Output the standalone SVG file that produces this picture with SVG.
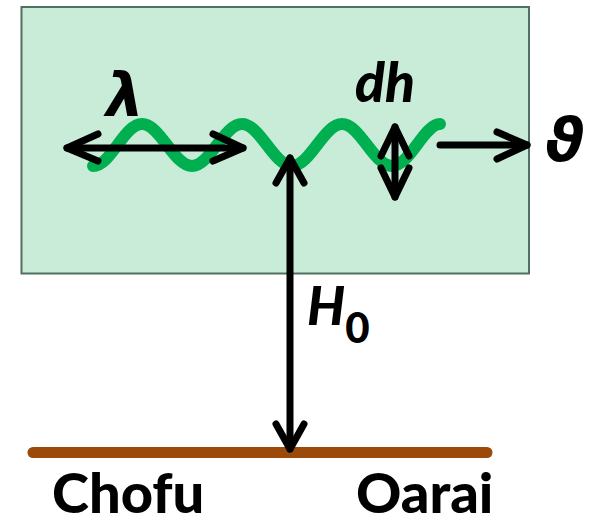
<svg xmlns="http://www.w3.org/2000/svg" width="596" height="525" viewBox="0 0 596 525">
<style>
.lbl{font-family:Lato,"Noto Sans","DejaVu Sans",sans-serif;font-weight:900;fill:#000}
.it{font-style:italic}
.greek{font-family:"DejaVu Sans","Noto Sans",sans-serif;font-weight:bold;font-style:italic;fill:#000}
.arr{fill:none;stroke:#000;stroke-width:7;stroke-linecap:round;stroke-linejoin:round}
</style>
<rect width="596" height="525" fill="#fff"/>
<g id="layer">
<rect x="21.5" y="7" width="507.5" height="266.5" fill="#c9ecd9" stroke="#52705f" stroke-width="2"/>
</g>
<g id="wave">
<path d="M93,166 C111,166 124,124 142,124 S174,166 192,166 S224,124 242,124 S274,166 292,166 S324,124 342,124 S374,166 392,166 S424,124 440,124" fill="none" stroke="#00b050" stroke-width="12" stroke-linecap="round"/>
</g>
<g id="ground">
<line x1="33" y1="452.5" x2="487" y2="452.5" stroke="#9c4a0a" stroke-width="11" stroke-linecap="round"/>
</g>
<g id="connectors">
<g id="lambda-arrow">
<line class="arr" x1="67" y1="148" x2="243" y2="148"/>
<polyline class="arr" points="98,134 67,148 98,161"/>
<polyline class="arr" points="213,134 243,148 213,161"/>
</g>
<g id="dh-arrow">
<line class="arr" x1="395" y1="127" x2="395" y2="197"/>
<polyline class="arr" points="381,156 395,127 409,156"/>
<polyline class="arr" points="381,168 395,197 409,168"/>
</g>
<g id="v-arrow">
<line class="arr" x1="440" y1="145" x2="527" y2="145"/>
<polyline class="arr" points="497,132 527,145 497,159"/>
</g>
<g id="h0-arrow">
<line class="arr" x1="290" y1="158" x2="290" y2="449"/>
<polyline class="arr" points="276,183 290,158 304,183"/>
<polyline class="arr" points="276,424 290,449 304,424"/>
</g>
</g>
<g id="lambda"><text class="greek" x="106" y="116" font-size="60">λ</text></g>
<g id="dh"><text class="lbl it" x="355" y="102" font-size="55">dh</text></g>
<g id="theta"><text class="greek" x="545" y="161" font-size="60">ϑ</text></g>
<g id="H0"><text class="lbl it" x="307" y="325" font-size="53">H<tspan font-style="normal" font-size="42" dy="18">0</tspan></text></g>
<g id="chofu"><text class="lbl" x="52" y="513" font-size="56">Chofu</text></g>
<g id="oarai"><text class="lbl" x="356" y="513" font-size="56">Oarai</text></g>
</svg>
